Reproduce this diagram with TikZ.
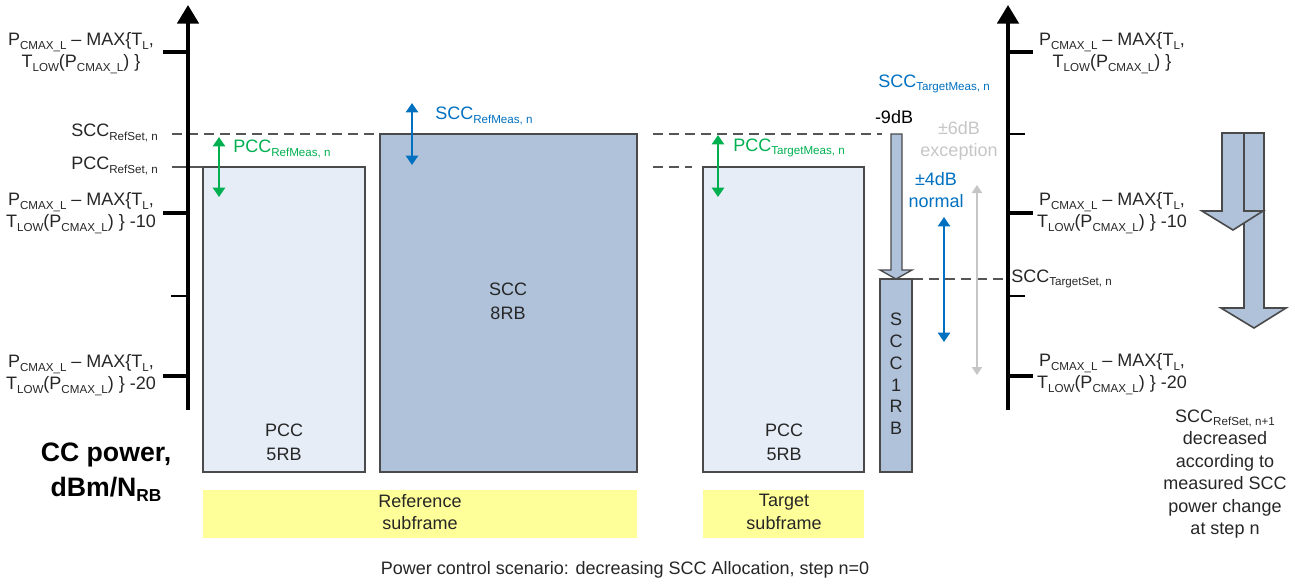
\documentclass[tikz,border=0pt]{standalone}
\usepackage{fontspec}
\setmainfont{Liberation Sans}
\usetikzlibrary{arrows.meta}
\definecolor{txt}{HTML}{262626}
\definecolor{lightbox}{HTML}{E6EDF7}
\definecolor{darkbox}{HTML}{AFC2DA}
\definecolor{edge}{HTML}{4A4A4A}
\definecolor{guidecol}{HTML}{555555}
\definecolor{ublue}{HTML}{0070C0}
\definecolor{ugreen}{HTML}{00B050}
\definecolor{ugray}{HTML}{C6C6C6}
\definecolor{uyellow}{HTML}{FFFF99}
\newcommand{\lo}[1]{\raisebox{-0.35ex}{\fontsize{8.7}{9}\selectfont #1}}
\newcommand{\lob}[1]{\raisebox{-0.35ex}{\fontsize{13}{13}\selectfont\bfseries #1}}
\begin{document}
\begin{tikzpicture}[x=0.75pt,y=-0.75pt,
  font=\fontsize{13.5}{16.5}\selectfont, text=txt,
  axisline/.style={line width=3pt, black},
  bigtick/.style={line width=3pt, black},
  smalltick/.style={line width=1.5pt, black},
  guide/.style={line width=1.3pt, guidecol, dash pattern=on 7.5pt off 4.5pt},
  boxL/.style={draw=edge, fill=lightbox, line width=1.2pt},
  boxD/.style={draw=edge, fill=darkbox, line width=1.2pt},
  band/.style={fill=uyellow, draw=none},
  lbl/.style={align=center, inner sep=0pt},
  meas/.style={line width=2.2pt, {Triangle[width=9pt,length=7pt]}-{Triangle[width=9pt,length=7pt]}},
  measthin/.style={line width=1.5pt, {Triangle[width=7.5pt,length=6pt]}-{Triangle[width=7.5pt,length=6pt]}},
  boxtext/.style={align=center, inner sep=0pt, font=\fontsize{13.5}{18}\selectfont}
]
\useasboundingbox (0,0) rectangle (1295,583);

% ---------- named coordinates ----------
\coordinate (axLb) at (188,410);
\coordinate (axLt) at (188,5);
\coordinate (axRb) at (1008,410);
\coordinate (axRt) at (1008,5);

% ---------- boxes ----------
\draw[boxL] (203,167) rectangle (365,472);
\draw[boxD] (380,134) rectangle (637,472);
\draw[boxL] (703,167) rectangle (864,472);
\draw[boxD] (880,279) rectangle (912,472);

% yellow bands
\fill[band] (203,490) rectangle (637,538);
\fill[band] (703,490) rectangle (864,538);

% ---------- guide lines ----------
\coordinate (g1a) at (172,134); \coordinate (g1b) at (380,134);
\coordinate (g2a) at (653,134); \coordinate (g2b) at (882,134);
\coordinate (g3a) at (653,167); \coordinate (g3b) at (692,167);
\coordinate (g4a) at (913,279); \coordinate (g4b) at (1008,279);
\coordinate (pcA) at (172,167); \coordinate (pcB) at (203,167);
\draw[guide] (g1a) -- (g1b);
\draw[guide] (g2a) -- (g2b);
\draw[guide] (g3a) -- (g3b);
\draw[guide] (g4a) -- (g4b);
\draw[line width=1.3pt, guidecol] (pcA) -- (pcB);

% ---------- axes ----------
\draw[axisline, -{Triangle[width=16pt,length=14pt]}] (axLb) -- (axLt);
\draw[axisline, -{Triangle[width=16pt,length=14pt]}] (axRb) -- (axRt);
% left ticks
\draw[bigtick] (163,52) -- (188,52);
\draw[bigtick] (163,213) -- (188,213);
\draw[bigtick] (163,376) -- (188,376);
\draw[smalltick] (171,296) -- (188,296);
% right ticks
\draw[bigtick] (1008,52) -- (1033,52);
\draw[bigtick] (1008,213) -- (1033,213);
\draw[bigtick] (1008,376) -- (1033,376);
\draw[smalltick] (1008,134) -- (1025,134);
\draw[smalltick] (1008,296) -- (1025,296);

% ---------- block arrows ----------
\draw[boxD, line width=1pt] (891,134) -- (902,134) -- (902,270) -- (912,270) -- (896,279) -- (880,270) -- (891,270) -- cycle;
\draw[boxD, line width=1.2pt] (1244,133) -- (1264,133) -- (1264,308) -- (1286,308) -- (1254,328) -- (1221,308) -- (1244,308) -- cycle;
\draw[boxD, line width=1.2pt] (1222,133) -- (1244,133) -- (1244,211) -- (1263,211) -- (1233,230) -- (1202,211) -- (1222,211) -- cycle;

% ---------- measurement arrows ----------
\coordinate (grA) at (219,137); \coordinate (grB) at (219,197);
\coordinate (brA) at (412,103); \coordinate (brB) at (412,165);
\coordinate (gtA) at (718,135); \coordinate (gtB) at (718,197);
\coordinate (bnA) at (944,217); \coordinate (bnB) at (944,342);
\coordinate (gyA) at (977,185); \coordinate (gyB) at (977,375);
\draw[meas, ugreen] (grA) -- (grB);
\draw[meas, ublue] (brA) -- (brB);
\draw[meas, ugreen] (gtA) -- (gtB);
\draw[meas, ublue] (bnA) -- (bnB);
\draw[measthin, ugray] (gyA) -- (gyB);

% ---------- left labels ----------
\node[lbl] (lt1) at (81,53) {P\lo{CMAX\_L} \textendash{} MAX\{T\lo{L},\\T\lo{LOW}(P\lo{CMAX\_L}) \}};
\node[lbl] (lt2) at (81,213) {P\lo{CMAX\_L} \textendash{} MAX\{T\lo{L},\\T\lo{LOW}(P\lo{CMAX\_L}) \} -10};
\node[lbl] (lt3) at (81,375) {P\lo{CMAX\_L} \textendash{} MAX\{T\lo{L},\\T\lo{LOW}(P\lo{CMAX\_L}) \} -20};
\node[lbl, anchor=east] (lsr) at (158,133) {SCC\lo{RefSet, n}};
\node[lbl, anchor=east] (lpr) at (158,166) {PCC\lo{RefSet, n}};
\node[lbl, font=\fontsize{20}{26}\selectfont\bfseries, text=black] (lcc) at (106,472) {CC power,\\dBm/N\lob{RB}};

% ---------- right labels ----------
\node[lbl] (rt1) at (1112,53) {P\lo{CMAX\_L} \textendash{} MAX\{T\lo{L},\\T\lo{LOW}(P\lo{CMAX\_L}) \}};
\node[lbl] (rt2) at (1112,213) {P\lo{CMAX\_L} \textendash{} MAX\{T\lo{L},\\T\lo{LOW}(P\lo{CMAX\_L}) \} -10};
\node[lbl] (rt3) at (1112,374) {P\lo{CMAX\_L} \textendash{} MAX\{T\lo{L},\\T\lo{LOW}(P\lo{CMAX\_L}) \} -20};
\node[lbl, anchor=west] (rts) at (1011,279) {SCC\lo{TargetSet, n}};
\node[lbl, font=\fontsize{13.5}{16.9}\selectfont] (rnote) at (1225,474) {SCC\lo{RefSet, n+1}\\decreased\\according to\\measured SCC\\power change\\at step n};

% ---------- measurement labels ----------
\node[lbl, anchor=west, text=ugreen] (tpr) at (233,149) {PCC\lo{RefMeas, n}};
\node[lbl, anchor=west, text=ublue] (tsr) at (435,116) {SCC\lo{RefMeas, n}};
\node[lbl, anchor=west, text=ugreen] (tpt) at (733,148) {PCC\lo{TargetMeas, n}};
\node[lbl, anchor=west, text=ublue] (tst) at (878,84) {SCC\lo{TargetMeas, n}};
\node[lbl, text=black] (t9) at (894,117) {-9dB};
\node[lbl, text=ugray] (t6) at (959,141) {\textpm 6dB\\exception};
\node[lbl, text=ublue] (t4) at (936,190) {\textpm 4dB\\normal};

% ---------- box texts ----------
\node[boxtext] (bpr) at (284,442) {PCC\\5RB};
\node[boxtext] (bsr) at (508,301) {SCC\\8RB};
\node[boxtext] (bpt) at (784,442) {PCC\\5RB};
\node[lbl, font=\fontsize{13.5}{16.3}\selectfont] (bst) at (896,374) {S\\C\\C\\1\\R\\B};
\node[boxtext, font=\fontsize{13.5}{17}\selectfont] (yr) at (420,512) {Reference\\subframe};
\node[boxtext, font=\fontsize{13.5}{17}\selectfont] (yt) at (784,512) {Target\\subframe};

% ---------- caption ----------
\node[lbl] (cap) at (625,570) {Power control scenario: decreasing SCC Allocation, step n=0};
\end{tikzpicture}
\end{document}
